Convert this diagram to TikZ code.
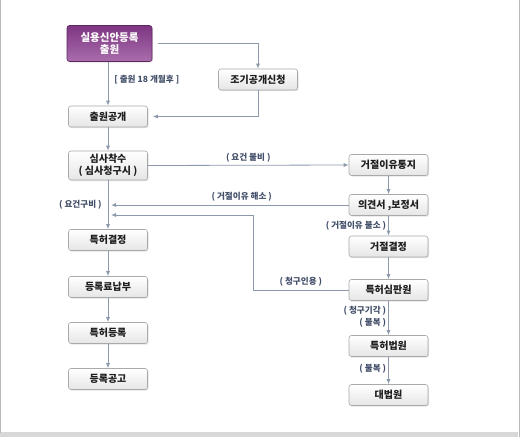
\documentclass[tikz,border=0pt]{standalone}
\usepackage{fontspec}
\setmainfont{Noto Sans CJK KR}
\usepackage{xcolor}
\usetikzlibrary{arrows.meta,shadows}
\definecolor{Wire}{HTML}{8C99AD}
\definecolor{Note}{HTML}{44506A}
\definecolor{Ink}{HTML}{1E1E1E}
\definecolor{Edge}{HTML}{A9A9A9}
\definecolor{Plum}{HTML}{7E3682}
\definecolor{PlumLight}{HTML}{A96DAC}
\definecolor{Frame}{HTML}{B9B9B9}

\begin{document}
\begin{tikzpicture}[x=1pt,y=-1pt,
  proc/.style={draw=Edge,top color=white,bottom color=black!10,rounded corners=2.5pt,minimum width=79pt,minimum height=21pt,inner sep=1pt,align=center,font=\bfseries\fontsize{10}{12}\selectfont,text=Ink,line width=0.6pt,drop shadow={opacity=0.22,shadow xshift=1pt,shadow yshift=-1.2pt}},
  filing/.style={proc,draw=Plum!75!black,top color=Plum,bottom color=PlumLight,text=white,minimum width=85pt,minimum height=36pt,font=\bfseries\fontsize{10.5}{12.5}\selectfont},
  note/.style={font=\bfseries\fontsize{8.6}{10}\selectfont,text=Note,inner sep=1pt},
  arrow/.style={-{Latex[length=5pt,width=4pt]},color=Wire,line width=0.8pt}
]
\useasboundingbox (0,0) rectangle (521,439);
\fill[white] (0,0) rectangle (521,439);
\fill[Frame!55] (0,432) rectangle (518,437);
\draw[Frame,line width=1pt] (0.5,0) -- (0.5,433);
\draw[Frame,line width=1pt] (519.5,0) -- (519.5,437);

\node[filing] (apply) at (109.5,43.5) {실용신안등록\\출원};
\node[proc] (early) at (258,79.5) {조기공개신청};
\node[proc] (publish) at (108,116.5) {출원공개};
\node[proc,minimum height=29pt] (exam) at (108,165.5) {심사착수\\( 심사청구시 )};
\node[proc] (notice) at (388.5,165) {거절이유통지};
\node[proc] (reply) at (388.5,205) {의견서 ,보정서};
\node[proc] (refuse) at (388.5,246.5) {거절결정};
\node[proc] (trial) at (388.5,290) {특허심판원};
\node[proc] (court) at (388.5,346) {특허법원};
\node[proc] (supreme) at (388.5,395) {대법원};
\node[proc] (grant) at (108,240) {특허결정};
\node[proc] (fee) at (108,287) {등록료납부};
\node[proc] (register) at (108,333) {특허등록};
\node[proc] (gazette) at (108,379) {등록공고};
\coordinate (bend) at (253,215);

\draw[arrow] (apply.south -| publish.north) -- node[note,right=5pt,pos=0.4]{[ 출원 18 개월후 ]} (publish.north);
\draw[arrow] ([xshift=6pt]apply.east) -| (early.north);
\draw[arrow,shorten >=5pt] (early.south) |- (publish.east);
\draw[arrow] (publish) -- (exam);
\draw[arrow] (exam.east) -- node[note,above=2pt]{( 요건 불비 )} (notice.west);
\draw[arrow] (notice) -- (reply);
\draw[arrow] (reply.west) -- node[note,above=2pt,pos=0.45]{( 거절이유 해소 )} ([xshift=3pt]reply.west -| exam.south);
\draw[arrow] (trial.west) -| node[note,above=2pt,pos=0.25]{( 청구인용 )} (bend) -- ([xshift=3pt]bend -| exam.south);
\draw[arrow] (exam) -- node[note,left=5pt]{( 요건구비 )} (grant);
\draw[arrow] (reply) -- node[note,left=1pt]{( 거절이유 불소 )} (refuse);
\draw[arrow] (refuse) -- (trial);
\draw[arrow] (trial) -- node[note,left=1pt,pos=0.28]{( 청구기각 )} node[note,left=1pt,pos=0.64]{( 불복 )} (court);
\draw[arrow] (court) -- node[note,left=1pt,pos=0.42]{( 불복 )} (supreme);
\draw[arrow] (grant) -- (fee);
\draw[arrow] (fee) -- (register);
\draw[arrow] (register) -- (gazette);
\end{tikzpicture}
\end{document}
